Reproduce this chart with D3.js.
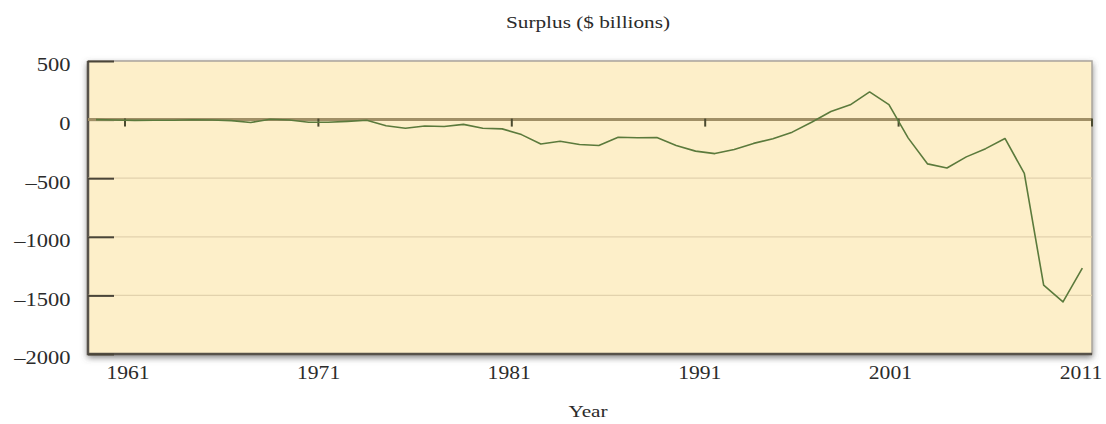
<!DOCTYPE html>
<html>
<head>
<meta charset="utf-8">
<script src="https://cdn.jsdelivr.net/npm/d3@7"></script>
<style>
  body { margin: 0; background: #fff; }
  svg text { font-family: "Liberation Serif", "DejaVu Serif", serif; fill: #2b2b2b; }
</style>
</head>
<body>
<svg id="chart"></svg>
<script>
// fiscal years and federal surplus ($ billions)
let years = [1960, 1961, 1962, 1963, 1964, 1965, 1966, 1967, 1968, 1969,
             1970, 1971, 1972, 1973, 1974, 1975, 1976, 1977, 1978, 1979,
             1980, 1981, 1982, 1983, 1984, 1985, 1986, 1987, 1988, 1989,
             1990, 1991, 1992, 1993, 1994, 1995, 1996, 1997, 1998, 1999,
             2000, 2001, 2002, 2003, 2004, 2005, 2006, 2007, 2008, 2009,
             2010, 2011];
let surplus = [0, -3, -7, -5, -6, -1, -4, -9, -25, 3,
               -3, -23, -23, -15, -6, -53, -74, -54, -59, -41,
               -74, -79, -128, -208, -185, -212, -221, -150, -155, -153,
               -221, -269, -290, -255, -203, -164, -107, -22, 69, 126,
               236, 128, -158, -378, -413, -318, -248, -161, -459, -1413,
               -1556, -1267];
let yTicks = [500, 0, -500, -1000, -1500, -2000];
let xTicks = [1961, 1971, 1981, 1991, 2001, 2011];

let width = 1106, height = 424;
let plot = { left: 88, right: 1092, top: 61, bottom: 354 };

let svg = d3.select("#chart")
    .attr("width", width)
    .attr("height", height);

let data = years.map((y, i) => ({ year: y, value: surplus[i] }));

let xScale = d3.scaleLinear()
    .domain([1961, 2011])
    .range([125, plot.right]);
// the year labels sit on a slightly tighter spacing than the tick marks
let labelScale = d3.scaleLinear()
    .domain([1961, 2011])
    .range([128, 1081]);
let yScale = d3.scaleLinear()
    .domain([-2000, 500])
    .range([plot.bottom, plot.top]);

let defs = svg.append("defs");
let shadow = defs.append("filter")
    .attr("id", "shadow")
    .attr("x", "-5%").attr("y", "-10%")
    .attr("width", "110%").attr("height", "125%");
shadow.append("feDropShadow")
    .attr("dx", 0).attr("dy", 3)
    .attr("stdDeviation", 3)
    .attr("flood-color", "#555")
    .attr("flood-opacity", 0.7);

// plot background
svg.append("rect")
    .attr("x", plot.left)
    .attr("y", plot.top)
    .attr("width", plot.right - plot.left)
    .attr("height", plot.bottom - plot.top)
    .attr("fill", "#fdefc9")
    .attr("stroke", "#a9a49c")
    .attr("stroke-width", 1.5)
    .attr("filter", "url(#shadow)");

// left and bottom frame
svg.append("path")
    .attr("d", `M${plot.left},${plot.top} V${plot.bottom} H${plot.right}`)
    .attr("fill", "none")
    .attr("stroke", "#57524a")
    .attr("stroke-width", 2.5);

// gridlines
svg.append("g")
    .selectAll("line")
    .data(yTicks.filter(d => d !== 0 && d !== 500 && d !== -2000))
    .enter()
    .append("line")
      .attr("x1", plot.left)
      .attr("x2", plot.right)
      .attr("y1", d => yScale(d))
      .attr("y2", d => yScale(d))
      .attr("stroke", "#e2d2ad")
      .attr("stroke-width", 1.2);

// y axis: short stubs inside the frame + labels
let yAxis = d3.axisLeft(yScale)
    .tickValues(yTicks)
    .tickSize(-26)
    .tickPadding(14)
    .tickFormat(d => d < 0 ? "\u2013" + Math.abs(d) : d);

let yG = svg.append("g")
    .attr("transform", `translate(${plot.left},0)`)
    .call(yAxis);
yG.select(".domain").remove();
yG.selectAll(".tick line")
    .attr("stroke", "#4a4538")
    .attr("stroke-width", 2);
yG.selectAll(".tick text")
    .attr("font-size", 18)
    .attr("dy", "0.55em")
    .attr("fill", "#2b2b2b")
    .attr("transform", "scale(1.25,1)");

// zero line
svg.append("line")
    .attr("x1", plot.left)
    .attr("x2", plot.right)
    .attr("y1", yScale(0))
    .attr("y2", yScale(0))
    .attr("stroke", "#a08f66")
    .attr("stroke-width", 3);

// year ticks hanging on the zero line
svg.append("g")
    .selectAll("line")
    .data(xTicks)
    .enter()
    .append("line")
      .attr("x1", d => xScale(d))
      .attr("x2", d => xScale(d))
      .attr("y1", yScale(0) - 1)
      .attr("y2", yScale(0) + 7)
      .attr("stroke", "#4b4a30")
      .attr("stroke-width", 2);

// the surplus line, each fiscal year centred half a year before its tick
let line = d3.line()
    .x(d => xScale(d.year - 0.5))
    .y(d => yScale(d.value));

svg.append("path")
    .datum(data)
    .attr("d", line)
    .attr("fill", "none")
    .attr("stroke", "#5b7a3c")
    .attr("stroke-width", 1.6)
    .attr("stroke-linejoin", "round");

// x labels
svg.append("g")
    .selectAll("text")
    .data(xTicks)
    .enter()
    .append("text")
      .attr("transform", d => `translate(${labelScale(d)},379) scale(1.2,1)`)
      .attr("text-anchor", "middle")
      .attr("font-size", 18)
      .text(d => d);

// titles
svg.append("text")
    .attr("transform", `translate(${(plot.left + plot.right) / 2 - 2},28) scale(1.25,1)`)
    .attr("text-anchor", "middle")
    .attr("font-size", 17)
    .text("Surplus ($ billions)");

svg.append("text")
    .attr("transform", `translate(${(plot.left + plot.right) / 2 - 2},417) scale(1.25,1)`)
    .attr("text-anchor", "middle")
    .attr("font-size", 17)
    .text("Year");
</script>
</body>
</html>
